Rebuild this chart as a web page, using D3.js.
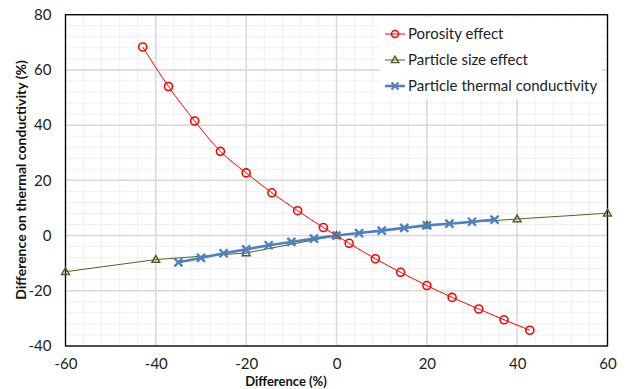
<!DOCTYPE html>
<html>
<head>
<meta charset="utf-8">
<script src="https://cdn.jsdelivr.net/npm/d3@7"></script>
<style>
  body { margin: 0; background: #fff; }
  svg { font-family: Lato, "Open Sans", sans-serif; }
</style>
</head>
<body>
<svg id="plot1" width="626" height="389"></svg>
<script>
// series
var porosityX = [-42.9, -37.2, -31.4, -25.7, -20.0, -14.3, -8.6, -2.9, 2.8, 8.6, 14.2, 20.0, 25.6, 31.5, 37.1, 42.8];
var porosityY = [68.3, 54.0, 41.5, 30.5, 22.7, 15.5, 9.0, 2.9, -2.8, -8.4, -13.3, -18.1, -22.4, -26.6, -30.5, -34.3];

var sizeX = [-60, -40, -20, 0, 20, 40, 60];
var sizeY = [-13.1, -8.7, -6.3, 0, 3.7, 6.0, 8.1];

var condX = [-35, -30, -25, -20, -15, -10, -5, 0, 5, 10, 15, 20, 25, 30, 35];
var condY = [-9.7, -8.1, -6.4, -5.0, -3.5, -2.3, -1.1, 0, 0.9, 1.8, 2.8, 3.7, 4.3, 5.0, 5.8];

var xTicks = [-60, -40, -20, 0, 20, 40, 60];
var yTicks = [-40, -20, 0, 20, 40, 60, 80];
var seriesNames = ["Porosity effect", "Particle size effect", "Particle thermal conductivity"];

function zip(xs, ys) {
    return xs.map(function(x, i) { return {x: x, y: ys[i]}; });
}

var svg = d3.select("#plot1");
var pLeft = 65.5, pRight = 607.5, pTop = 14.7, pBottom = 346;

var xScale = d3.scaleLinear().domain([-60, 60]).range([pLeft, pRight]);
var yScale = d3.scaleLinear().domain([-40, 80]).range([pBottom, pTop]);
var fmt = function(d) { return String(d); };

// grid: minor every 4, major every 20
var grid = svg.append("g");
var minorX = d3.range(-60, 61, 4), minorY = d3.range(-40, 81, 4);
grid.selectAll(".mx").data(minorX).enter().append("line")
    .attr("x1", function(d){ return xScale(d); }).attr("x2", function(d){ return xScale(d); })
    .attr("y1", pTop).attr("y2", pBottom)
    .attr("stroke", "#efefef").attr("stroke-width", 1);
grid.selectAll(".my").data(minorY).enter().append("line")
    .attr("y1", function(d){ return yScale(d); }).attr("y2", function(d){ return yScale(d); })
    .attr("x1", pLeft).attr("x2", pRight)
    .attr("stroke", "#efefef").attr("stroke-width", 1);
grid.selectAll(".Mx").data(xTicks).enter().append("line")
    .attr("x1", function(d){ return xScale(d); }).attr("x2", function(d){ return xScale(d); })
    .attr("y1", pTop).attr("y2", pBottom)
    .attr("stroke", "#d9d9d9").attr("stroke-width", 1.5);
grid.selectAll(".My").data(yTicks).enter().append("line")
    .attr("y1", function(d){ return yScale(d); }).attr("y2", function(d){ return yScale(d); })
    .attr("x1", pLeft).attr("x2", pRight)
    .attr("stroke", "#d9d9d9").attr("stroke-width", 1.5);

// axes (labels only)
var xAxis = svg.append("g")
    .attr("transform", "translate(0," + pBottom + ")")
    .call(d3.axisBottom(xScale).tickValues(xTicks).tickFormat(fmt).tickSize(0).tickPadding(12));
var yAxis = svg.append("g")
    .attr("transform", "translate(" + pLeft + ",0)")
    .call(d3.axisLeft(yScale).tickValues(yTicks).tickFormat(fmt).tickSize(0).tickPadding(14));
[xAxis, yAxis].forEach(function(a) {
    a.select(".domain").remove();
    a.selectAll("text").attr("font-size", "15px").attr("fill", "#222")
        .attr("font-family", "Lato, 'Open Sans', sans-serif");
});

svg.append("rect")
    .attr("x", pLeft).attr("y", pTop)
    .attr("width", pRight - pLeft).attr("height", pBottom - pTop)
    .attr("fill", "none").attr("stroke", "#000").attr("stroke-width", 1.3);

var line = d3.line()
    .x(function(d) { return xScale(d.x); })
    .y(function(d) { return yScale(d.y); });
var curve = d3.line().curve(d3.curveMonotoneX)
    .x(function(d) { return xScale(d.x); })
    .y(function(d) { return yScale(d.y); });

var sizeData = zip(sizeX, sizeY);
var condData = zip(condX, condY);
var poroData = zip(porosityX, porosityY);

var triangle = d3.symbol().type(d3.symbolTriangle).size(26);

// particle size effect
svg.append("path").datum(sizeData)
    .attr("fill", "none").attr("stroke", "#4f6228").attr("stroke-width", 1)
    .attr("d", line);
svg.selectAll(".tri").data(sizeData).enter().append("path")
    .attr("d", triangle)
    .attr("transform", function(d){ return "translate(" + xScale(d.x) + "," + (yScale(d.y) + 0.5) + ")"; })
    .attr("fill", "none").attr("stroke", "#4f6228").attr("stroke-width", 1.5);

// particle thermal conductivity
svg.append("path").datum(condData)
    .attr("fill", "none").attr("stroke", "#4f81bd").attr("stroke-width", 2.6)
    .attr("d", line);
svg.selectAll(".xm").data(condData).enter().append("path")
    .attr("d", "M-4,-4L4,4M-4,4L4,-4")
    .attr("transform", function(d){ return "translate(" + xScale(d.x) + "," + yScale(d.y) + ")"; })
    .attr("stroke", "#4f81bd").attr("stroke-width", 2.4);

// porosity effect
svg.append("path").datum(poroData)
    .attr("fill", "none").attr("stroke", "red").attr("stroke-width", 1)
    .attr("d", curve);
svg.selectAll(".circ").data(poroData).enter().append("circle")
    .attr("cx", function(d){ return xScale(d.x); })
    .attr("cy", function(d){ return yScale(d.y); })
    .attr("r", 4)
    .attr("fill", "none").attr("stroke", "red").attr("stroke-width", 1.6);

// legend
var legend = svg.append("g");
legend.append("rect").attr("x", 380).attr("y", 17).attr("width", 222).attr("height", 82).attr("fill", "#fff");
var legColors = ["red", "#4f6228", "#4f81bd"];
var legWidths = [1, 1, 2.6];
seriesNames.forEach(function(name, i) {
    var y = 34 + i * 26;
    var g = legend.append("g").attr("transform", "translate(0," + y + ")");
    g.append("line").attr("x1", 385).attr("x2", 405).attr("y1", 0).attr("y2", 0)
        .attr("stroke", legColors[i]).attr("stroke-width", legWidths[i]);
    if (i === 0) {
        g.append("circle").attr("cx", 395).attr("cy", 0).attr("r", 3.5)
            .attr("fill", "none").attr("stroke", "red").attr("stroke-width", 1.5);
    } else if (i === 1) {
        g.append("path").attr("d", d3.symbol().type(d3.symbolTriangle).size(24))
            .attr("transform", "translate(395,0.5)")
            .attr("fill", "none").attr("stroke", "#4f6228").attr("stroke-width", 1.4);
    } else {
        g.append("path").attr("d", "M-3.5,-3.5L3.5,3.5M-3.5,3.5L3.5,-3.5")
            .attr("transform", "translate(395,0)")
            .attr("stroke", "#4f81bd").attr("stroke-width", 2);
    }
    g.append("text").attr("x", 408).attr("y", 0).attr("dy", "0.35em")
        .attr("font-size", "15px").attr("fill", "#222").text(name);
});

// axis titles
svg.append("text")
    .attr("x", 286).attr("y", 386)
    .attr("text-anchor", "middle")
    .attr("font-size", "13px").attr("font-weight", "bold").attr("fill", "#111")
    .text("Difference (%)");

svg.append("text")
    .attr("transform", "translate(26,180) rotate(-90)")
    .attr("text-anchor", "middle")
    .attr("font-size", "14px").attr("font-weight", "bold").attr("fill", "#111")
    .text("Difference on thermal conductivity (%)");
</script>
</body>
</html>
